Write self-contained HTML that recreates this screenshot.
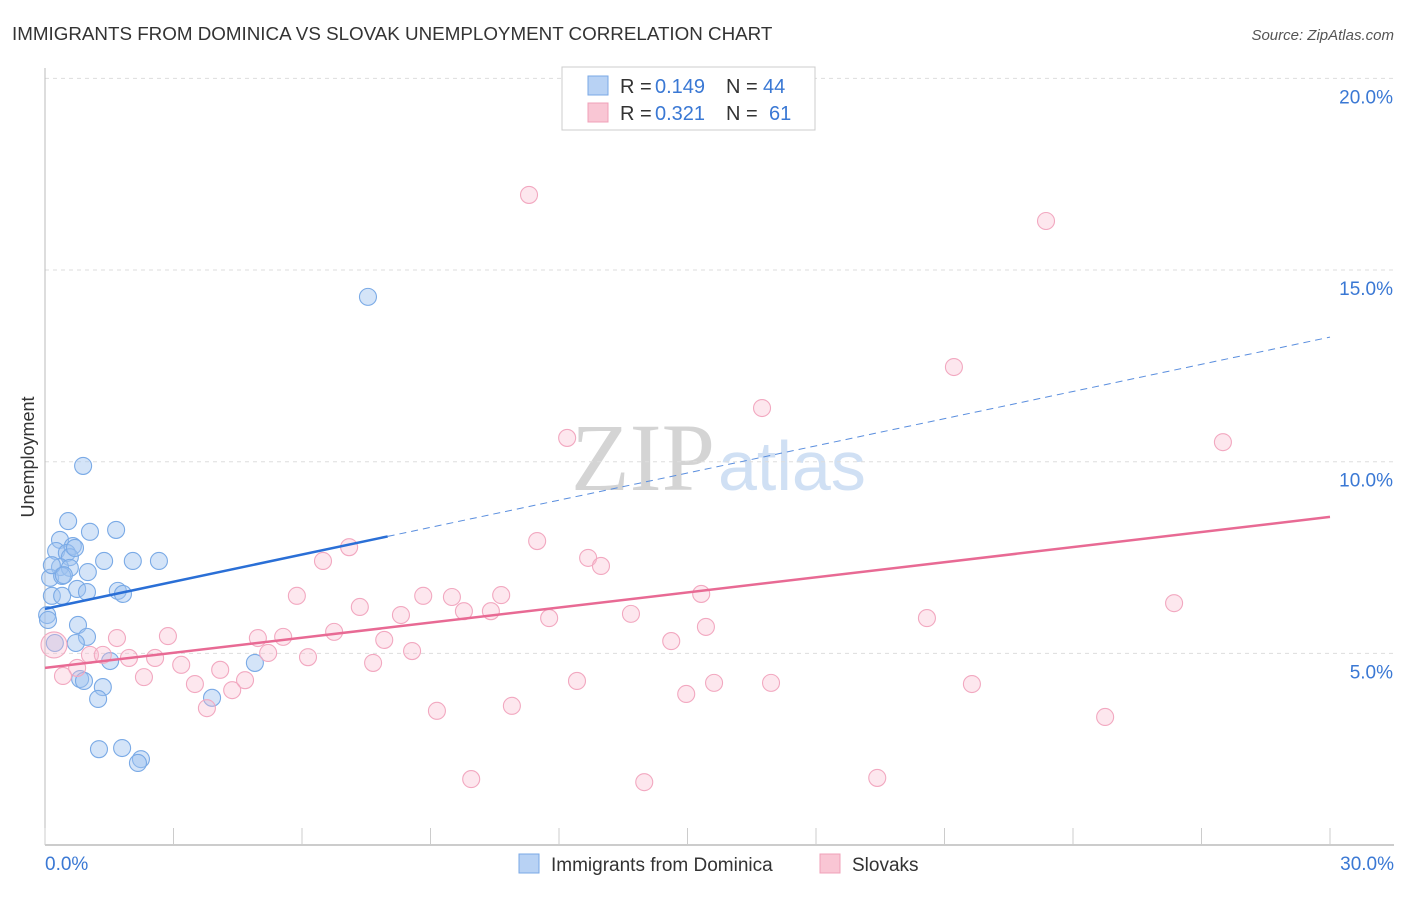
<!DOCTYPE html>
<html><head><meta charset="utf-8">
<style>
body{margin:0;background:#fff;font-family:"Liberation Sans",sans-serif;}
svg text{font-family:"Liberation Sans",sans-serif;}
</style></head>
<body>
<svg id="chart" width="1406" height="892" xmlns="http://www.w3.org/2000/svg">
<text x="12" y="40" font-size="18.8" fill="#333">IMMIGRANTS FROM DOMINICA VS SLOVAK UNEMPLOYMENT CORRELATION CHART</text>
<text x="1394" y="40" font-size="15" fill="#555" font-style="italic" text-anchor="end">Source: ZipAtlas.com</text>
<text x="0" y="0" transform="translate(34,457) rotate(-90)" font-size="18" fill="#333" text-anchor="middle">Unemployment</text>
<text x="715" y="490" font-size="96" fill="#d4d4d4" text-anchor="end" style="font-family:'Liberation Serif',serif">ZIP</text>
<text x="718" y="490" font-size="70" fill="#d0e0f4">atlas</text>
<g id="grid"></g>
<g id="axes"></g>
<g id="pts"></g>
<g id="trends"></g>
<g>
<rect x="562" y="67" width="253" height="63" fill="#fff" stroke="#ccc"/>
<rect x="588" y="76" width="20" height="19" fill="#b8d2f4" stroke="#7aa8e6"/>
<rect x="588" y="103" width="20" height="19" fill="#f9c6d4" stroke="#f0a0b8"/>
<g font-size="20" fill="#333">
<text x="620" y="93">R =</text><text x="655" y="93" fill="#3a78d4">0.149</text><text x="726" y="93">N =</text><text x="763" y="93" fill="#3a78d4">44</text>
</g>
<g font-size="20" fill="#333">
<text x="620" y="120">R =</text><text x="655" y="120" fill="#3a78d4">0.321</text><text x="726" y="120">N =</text><text x="769" y="120" fill="#3a78d4">61</text>
</g>
</g>
<g>
<rect x="519" y="854" width="20" height="19" fill="#b8d2f4" stroke="#7aa8e6"/>
<text x="551" y="871" font-size="19" fill="#333">Immigrants from Dominica</text>
<rect x="820" y="854" width="20" height="19" fill="#f9c6d4" stroke="#f0a0b8"/>
<text x="852" y="871" font-size="19" fill="#333">Slovaks</text>
</g>
</svg>
<script>
const yTicks=[5,10,15,20];
const yTickLabels=["5.0%","10.0%","15.0%","20.0%"];
const xTickLabels=["0.0%","30.0%"];
const blueX=[0.89,0.54,1.66,1.05,0.35,0.65,0.26,0.51,0.58,1.38,2.05,2.66,0.35,0.58,1.00,0.12,0.40,0.75,0.98,0.16,0.40,1.70,1.82,0.05,0.07,0.77,0.98,0.72,0.23,1.52,4.90,0.82,0.91,1.35,1.24,3.90,1.26,1.80,2.24,2.17,7.54,0.16,0.44,0.70];
const blueY=[9.89,8.45,8.22,8.17,7.96,7.80,7.67,7.62,7.51,7.41,7.41,7.41,7.25,7.23,7.12,6.97,7.02,6.68,6.60,6.50,6.50,6.63,6.55,6.00,5.87,5.74,5.43,5.27,5.27,4.80,4.75,4.33,4.28,4.12,3.81,3.84,2.50,2.53,2.24,2.14,14.30,7.30,7.04,7.75];
const pinkX=[11.30,23.37,21.22,16.74,12.19,27.50,7.10,11.49,6.49,12.68,12.98,5.88,8.83,9.50,10.65,15.32,7.35,8.31,9.78,10.41,11.77,13.68,20.59,26.36,6.75,2.87,1.68,4.97,5.56,7.92,14.62,15.43,0.21,1.05,1.96,2.57,6.14,5.21,8.57,3.18,4.09,7.66,0.75,0.42,2.31,3.50,4.67,4.37,12.42,15.62,16.95,21.64,14.97,3.78,9.15,10.90,24.75,9.95,13.99,19.43,1.35];
const pinkY=[16.96,16.28,12.47,11.40,10.62,10.51,7.77,7.93,7.41,7.49,7.28,6.50,6.50,6.47,6.52,6.55,6.21,6.00,6.10,6.10,5.92,6.03,5.92,6.31,5.56,5.45,5.40,5.40,5.43,5.35,5.32,5.69,5.22,4.96,4.88,4.88,4.90,5.01,5.06,4.70,4.57,4.75,4.62,4.41,4.38,4.20,4.30,4.04,4.28,4.23,4.23,4.20,3.94,3.57,3.50,3.63,3.34,1.72,1.64,1.75,4.96];
const blueTrend=[6.16,13.25];
const blueSolidEnd=8.0;
const pinkTrend=[4.62,8.56];

const X=v=>45+v*(1285/30);
const Y=v=>845-v*38.33;
const NS="http://www.w3.org/2000/svg";
function mk(t,a,p){const e=document.createElementNS(NS,t);for(const k in a)e.setAttribute(k,a[k]);p.appendChild(e);return e;}
const grid=document.getElementById('grid'),axes=document.getElementById('axes'),pts=document.getElementById('pts'),tr=document.getElementById('trends');
yTicks.forEach((t,i)=>{
 const l=mk('line',{x1:45,x2:1394,y1:Y(t),y2:Y(t),stroke:'#ddd','stroke-dasharray':'4,4'},grid);
 
 
 const tx=mk('text',{x:1393,y:Y(t)+25,'font-size':19,fill:'#3a78d4','text-anchor':'end'},axes);
 tx.textContent=yTickLabels[i];
 
 
});
let al=mk('line',{x1:45,x2:45,y1:68,y2:845,stroke:'#bbb'},axes);


let bl=mk('line',{x1:45,x2:1394,y1:845,y2:845,stroke:'#bbb','stroke-width':1.5},axes);


for(let i=0;i<=10;i++){
 const t=mk('line',{x1:X(i*3),x2:X(i*3),y1:828,y2:845,stroke:'#ccc'},axes);
 
 
}
[[0,'start',45],[30,'end',1394]].forEach((d,i)=>{
 const t=mk('text',{x:d[2],y:870,'font-size':19,fill:'#3a78d4','text-anchor':d[1]},axes);
 t.textContent=xTickLabels[i];
 
 
});
blueX.forEach((x,i)=>{
 const c=mk('circle',{cx:X(x),cy:Y(blueY[i]),r:8.5,fill:'rgba(160,196,240,0.45)',stroke:'#7aaae6','stroke-width':1.1},pts);
 
 
});
pinkX.forEach((x,i)=>{
 const c=mk('circle',{cx:X(x),cy:Y(pinkY[i]),r:i==32?13:8.5,fill:'rgba(248,185,205,0.35)',stroke:'#f2a8c0','stroke-width':1.1},pts);
 
 
});
const by=v=>blueTrend[0]+(blueTrend[1]-blueTrend[0])*v/30;
let l1=mk('line',{x1:X(0),y1:Y(by(0)),x2:X(blueSolidEnd),y2:Y(by(blueSolidEnd)),stroke:'#2a6fd6','stroke-width':2.5},tr);


let l2=mk('line',{x1:X(blueSolidEnd),y1:Y(by(blueSolidEnd)),x2:X(30),y2:Y(by(30)),stroke:'#5a8ede','stroke-width':1,'stroke-dasharray':'7,5'},tr);


let l3=mk('line',{x1:X(0),y1:Y(pinkTrend[0]),x2:X(30),y2:Y(pinkTrend[1]),stroke:'#e86a94','stroke-width':2.5},tr);


</script>
</body></html>
